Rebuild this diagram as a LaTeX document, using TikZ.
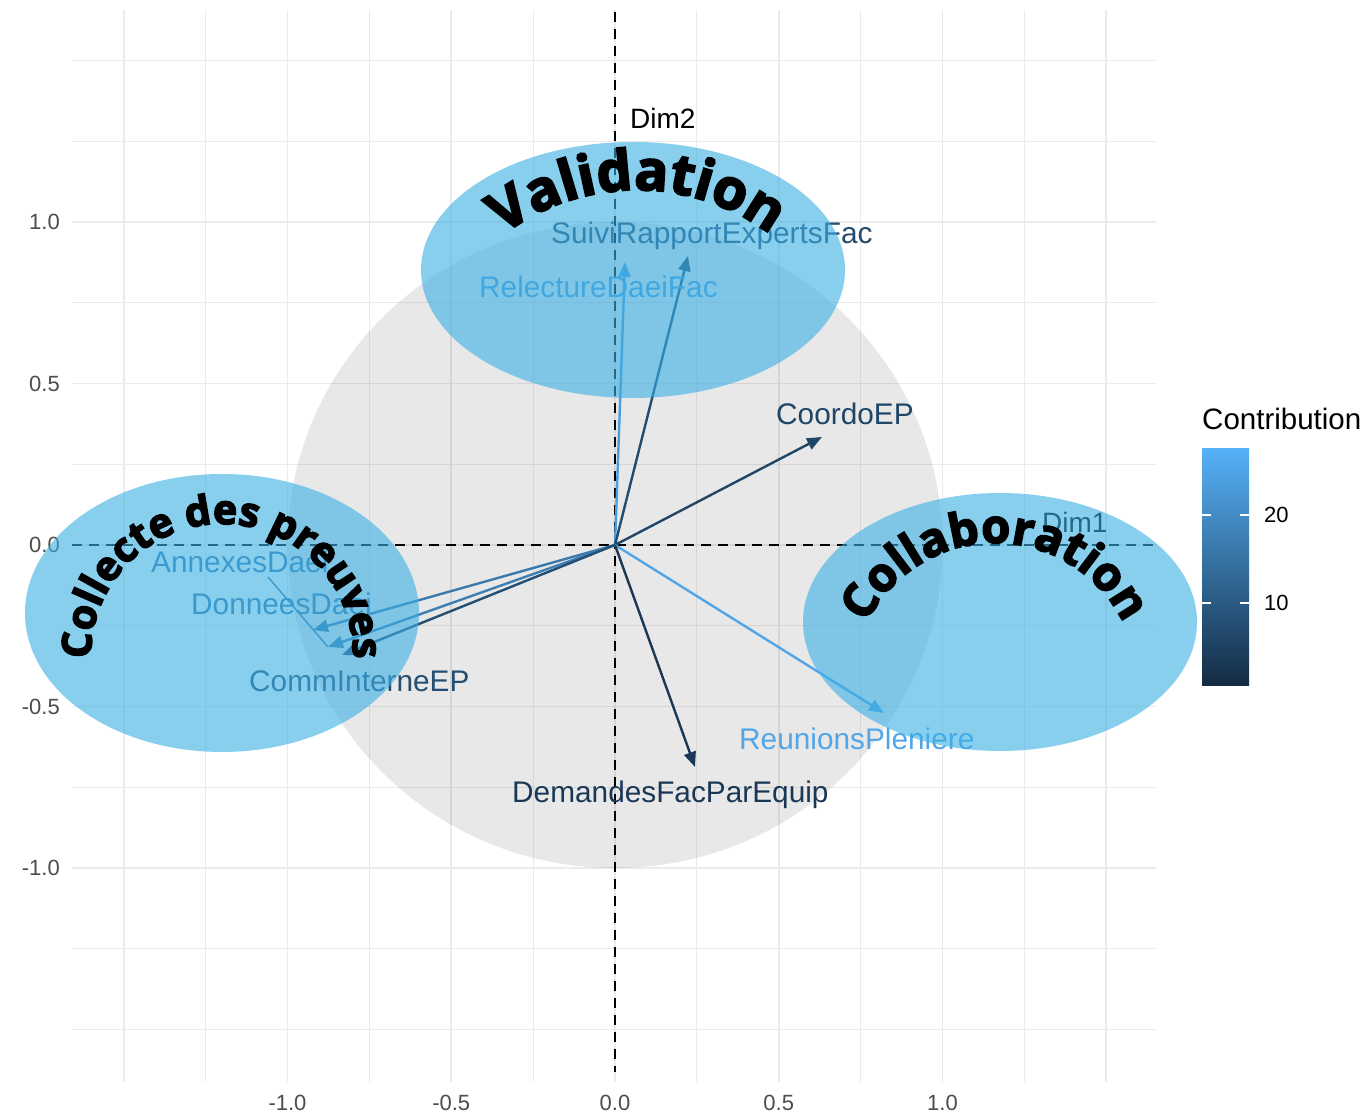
\documentclass[tikz,border=0pt]{standalone}
\usepackage{fontspec}
\setmainfont{Liberation Sans}
\newfontfamily\curvefont[BoldFeatures={FakeBold=3.5}]{Open Sans}
\usetikzlibrary{arrows.meta,decorations.text}
\definecolor{lo}{RGB}{19,43,67}
\definecolor{hi}{RGB}{86,177,247}
\definecolor{gridc}{RGB}{235,235,235}
\definecolor{tickc}{RGB}{77,77,77}
\definecolor{ellc}{RGB}{58,175,228}
\colorlet{cRel}{hi!85!lo}
\colorlet{cSui}{hi!24!lo}
\colorlet{cCoo}{hi!20!lo}
\colorlet{cReu}{hi!92!lo}
\colorlet{cDem}{hi!10!lo}
\colorlet{cCom}{hi!26!lo}
\colorlet{cDon}{hi!58!lo}
\colorlet{cAnn}{hi!62!lo}
\newcommand\labfont{\fontsize{29.8}{32}\selectfont}
\newcommand\tickfont{\fontsize{22}{24}\selectfont}
\newcommand\valfont{\curvefont\bfseries\fontsize{56}{60}\selectfont}
\newcommand\colfont{\curvefont\bfseries\fontsize{41}{46}\selectfont}
\newcommand\clbfont{\curvefont\bfseries\fontsize{47}{52}\selectfont}
\begin{document}
\begin{tikzpicture}[x=1pt,y=1pt,
  gridmajor/.style={draw=gridc, line width=1.6pt},
  gridminor/.style={draw=gridc, line width=1pt},
  axisdash/.style={draw=black, line width=2.2pt, dash pattern=on 10pt off 7pt},
  vec/.style={line width=2.4pt, -{Triangle[length=15pt,width=12pt]}},
  lab/.style={font=\labfont, inner sep=0pt, anchor=base west},
  ticklab/.style={font=\tickfont, text=tickc, inner sep=0pt},
  zone/.style={fill=ellc, opacity=0.6},
  arcword/.style={decorate}
]
\fill[white] (0,0) rectangle (1366,1115);
\useasboundingbox (0,0) rectangle (1366,1115);
% grid
\foreach \k in {-6,-4,...,6} {
  \draw[gridmajor] ({615+81.875*\k},33) -- ({615+81.875*\k},1105);
  \draw[gridmajor] (72,{570+80.75*\k}) -- (1156,{570+80.75*\k});
}
\foreach \k in {-5,-3,...,5} {
  \draw[gridminor] ({615+81.875*\k},33) -- ({615+81.875*\k},1105);
  \draw[gridminor] (72,{570+80.75*\k}) -- (1156,{570+80.75*\k});
}
% correlation circle
\fill[black, opacity=0.09] (615,570) ellipse [x radius=327.5pt, y radius=323pt];
% tick labels
\node[ticklab, anchor=east] (y10) at (60,893) {1.0};
\node[ticklab, anchor=east] (y05) at (60,731.5) {0.5};
\node[ticklab, anchor=east] (y00) at (60,570) {0.0};
\node[ticklab, anchor=east] (ym05) at (60,408.5) {-0.5};
\node[ticklab, anchor=east] (ym10) at (60,247) {-1.0};
\node[ticklab] (xm10) at (287.5,12) {-1.0};
\node[ticklab] (xm05) at (451.25,12) {-0.5};
\node[ticklab] (x00) at (615,12) {0.0};
\node[ticklab] (x05) at (778.75,12) {0.5};
\node[ticklab] (x10) at (942.5,12) {1.0};
% axes
\coordinate (O) at (615,570);
\coordinate (vtop) at (615,1103);
\coordinate (vbot) at (615,43);
\coordinate (hleft) at (72,570);
\coordinate (hright) at (1156,570);
\draw[axisdash] (vtop) -- (vbot);
\draw[axisdash] (hleft) -- (hright);
\node[lab, font=\fontsize{28}{30}\selectfont] (dim2) at (630,986) {Dim2};
\node[lab, font=\fontsize{28}{30}\selectfont] (dim1) at (1042,582) {Dim1};
% arrow tips
\coordinate (tRel) at (625,853);
\coordinate (tSui) at (688,859);
\coordinate (tCoo) at (822,678);
\coordinate (tReu) at (884,402);
\coordinate (tDem) at (695,348);
\coordinate (tDon) at (313,485);
\coordinate (tAnn) at (328,468);
\coordinate (tCom) at (342,460);
\draw[vec, draw=cRel, fill=cRel] (O) -- (tRel);
\draw[vec, draw=cSui, fill=cSui] (O) -- (tSui);
\draw[vec, draw=cCoo, fill=cCoo] (O) -- (tCoo);
\draw[vec, draw=cReu, fill=cReu] (O) -- (tReu);
\draw[vec, draw=cDem, fill=cDem] (O) -- (tDem);
\draw[vec, draw=cDon, fill=cDon] (O) -- (tDon);
\draw[vec, draw=cAnn, fill=cAnn] (O) -- (tAnn);
\draw[vec, draw=cCom, fill=cCom] (O) -- (tCom);
% labels
\node[lab, text=cSui] (lSui) at (551,871) {SuiviRapportExpertsFac};
\node[lab, text=cRel] (lRel) at (479,817) {RelectureDaeiFac};
\node[lab, text=cCoo] (lCoo) at (776,690) {CoordoEP};
\node[lab, text=cReu] (lReu) at (739,365) {ReunionsPleniere};
\node[lab, text=cDem] (lDem) at (512,312) {DemandesFacParEquip};
\node[lab, text=cCom] (lCom) at (249,423) {CommInterneEP};
\node[lab, text=cDon] (lDon) at (191,500) {DonneesDaei};
\node[lab, text=cAnn] (lAnn) at (151,542) {AnnexesDaei};
\coordinate (sAnn) at (268,538);
\draw[cAnn, line width=1.4pt] (sAnn) -- (tAnn);
% legend
\node[lab, font=\fontsize{29.5}{32}\selectfont] (legt) at (1202,685) {Contribution};
\node[inner sep=0pt, minimum width=47pt, minimum height=237pt, top color=hi, bottom color=lo] (bar) at (1225.5,547.5) {};
\draw[white, line width=1.4pt] (1202,600) -- (1211,600) (1240,600) -- (1249,600);
\draw[white, line width=1.4pt] (1202,512) -- (1211,512) (1240,512) -- (1249,512);
\node[ticklab, anchor=base west, text=black] (l20) at (1264,592) {20};
\node[ticklab, anchor=base west, text=black] (l10) at (1264,504) {10};
% zones
\fill[zone] (633,845) ellipse [x radius=212pt, y radius=128pt];
\fill[zone] (222,502) ellipse [x radius=197pt, y radius=139pt];
\fill[zone] (1000,493) ellipse [x radius=197pt, y radius=129pt];
% curved titles
\path[arcword, decoration={text along path, text={|\valfont|Validation}, text align=center}]
  (637,703) ++(140:222pt) arc[start angle=140, end angle=40, radius=222pt];
\path[arcword, decoration={text along path, text={|\colfont|Collecte des preuves}, text align=center}]
  (222,460) ++(205:131pt) arc[start angle=205, end angle=-25, radius=131pt];
\path[arcword, decoration={text along path, text={|\clbfont|Collaboration}, text align=center}]
  (995,429) ++(170:143pt) arc[start angle=170, end angle=10, radius=143pt];
\end{tikzpicture}
\end{document}
